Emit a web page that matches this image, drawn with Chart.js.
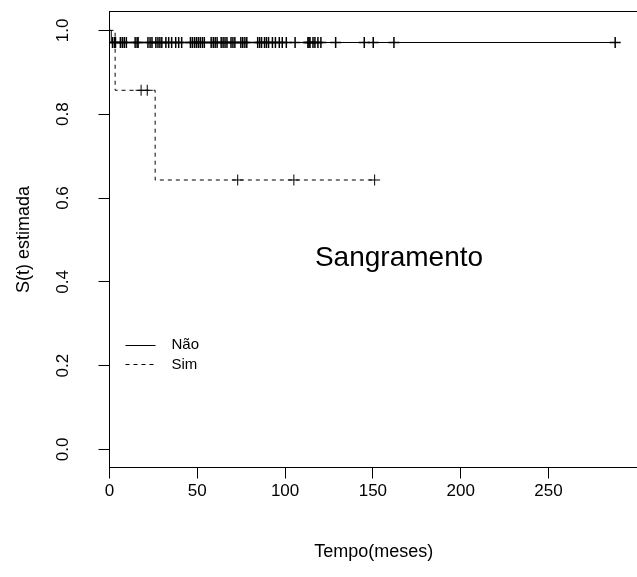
<!DOCTYPE html>
<html>
<head>
<meta charset="utf-8">
<script src="https://cdn.jsdelivr.net/npm/chart.js@4"></script>
<style>
  html, body { margin: 0; padding: 0; background: #fff; overflow: hidden; }
  #wrap { width: 645px; height: 577px; }
</style>
</head>
<body>
<div id="wrap"><canvas id="survival"></canvas></div>
<script>
// Kaplan-Meier curves (S(t)) by group
const naoTimes = [0, 1, 288];
const naoSurv = [1, 0.971, 0.971];
const naoCensor = [1.7, 2.8, 3.4, 6.2, 7.3, 8.4, 9.6, 14.6, 15.7, 16.3, 21.9, 23.1, 24.2,
  26.4, 27.6, 28.7, 29.8, 32.1, 33.7, 35.4, 37.7, 39.4, 41.1, 46.1, 47.2, 48.4, 49.5,
  50.6, 51.7, 52.9, 54.0, 57.9, 59.1, 60.2, 61.3, 63.6, 64.7, 65.8, 66.9, 69.2, 70.3,
  71.4, 74.8, 75.9, 77.1, 78.2, 84.4, 85.5, 86.6, 88.3, 89.4, 90.6, 92.8, 94.5, 96.7,
  98.4, 100.7, 105.7, 113.0, 113.6, 114.2, 115.9, 117.0, 118.7, 120.4, 128.8, 145.1,
  150.2, 162.0, 288.0];

const simTimes = [0, 3.2, 26, 151];
const simSurv = [1, 0.857, 0.643, 0.643];
const simCensor = [18, 21.5, 73, 105, 151];
const simCensorSurv = [0.857, 0.857, 0.643, 0.643, 0.643];

const xTicks = [0, 50, 100, 150, 200, 250];
const yTicks = [0, 0.2, 0.4, 0.6, 0.8, 1.0];
const groups = ["Não", "Sim"];

const pts = (xs, ys) => xs.map((x, i) => ({ x: x, y: ys[i] }));
const flat = (xs, y) => xs.map(x => ({ x: x, y: y }));

const tickFont = { family: "'Liberation Sans', Arial, sans-serif", size: 17 };
const titleFont = { family: "'Liberation Sans', Arial, sans-serif", size: 18 };

// frame, legend and panel label
const extras = {
  id: "extras",
  afterDraw(chart) {
    const ctx = chart.ctx;
    const a = chart.chartArea;
    ctx.save();
    ctx.strokeStyle = "#000";
    ctx.lineWidth = 1;
    ctx.strokeRect(a.left, a.top, a.right - a.left + 5, a.bottom - a.top);

    // legend
    const lx = a.left + 16, ly = 345;
    ctx.beginPath();
    ctx.moveTo(lx, ly + 0.5);
    ctx.lineTo(lx + 30, ly + 0.5);
    ctx.stroke();
    ctx.setLineDash([4, 4]);
    ctx.beginPath();
    ctx.moveTo(lx, ly + 19.5);
    ctx.lineTo(lx + 30, ly + 19.5);
    ctx.stroke();
    ctx.setLineDash([]);
    ctx.fillStyle = "#000";
    ctx.font = "15px 'Liberation Sans', Arial, sans-serif";
    ctx.textBaseline = "middle";
    ctx.fillText(groups[0], lx + 46, ly);
    ctx.fillText(groups[1], lx + 46, ly + 20);

    ctx.font = "28px 'Liberation Sans', Arial, sans-serif";
    ctx.textAlign = "center";
    ctx.fillText("Sangramento", 399, 258);
    ctx.restore();
  }
};

new Chart(document.getElementById("survival"), {
  type: "line",
  data: {
    datasets: [
      {
        label: groups[0],
        data: pts(naoTimes, naoSurv),
        stepped: true,
        borderColor: "#000",
        borderWidth: 1,
        pointRadius: 0,
        fill: false,
      },
      {
        label: groups[1],
        data: pts(simTimes, simSurv),
        stepped: true,
        borderColor: "#000",
        borderWidth: 1,
        borderDash: [4, 4],
        pointRadius: 0,
        fill: false,
      },
      {
        type: "scatter",
        label: groups[0] + " censura",
        data: flat(naoCensor, naoSurv[1]),
        pointStyle: "cross",
        pointRadius: 5.5,
        pointBorderWidth: 1.5,
        borderColor: "#000",
      },
      {
        type: "scatter",
        label: groups[1] + " censura",
        data: pts(simCensor, simCensorSurv),
        pointStyle: "cross",
        pointRadius: 5.5,
        pointBorderWidth: 1,
        borderColor: "#000",
      },
    ],
  },
  options: {
    responsive: true,
    maintainAspectRatio: false,
    animation: false,
    devicePixelRatio: 1,
    layout: { padding: { top: 11.5, left: 0, right: 0, bottom: 0 } },
    plugins: {
      legend: { display: false },
      tooltip: { enabled: false },
    },
    scales: {
      x: {
        type: "linear",
        min: 0,
        max: 301,
        afterFit: (s) => { s.height = 109.5; s.paddingLeft = 0; s.paddingRight = 0; },
        afterBuildTicks: (s) => { s.ticks = xTicks.map(v => ({ value: v })); },
        border: { display: false },
        grid: { display: true, drawOnChartArea: false, drawTicks: true, tickLength: 11, color: "#000" },
        ticks: { color: "#000", font: tickFont, padding: 3, maxRotation: 0 },
        title: { display: true, text: "Tempo(meses)", color: "#000", font: titleFont, padding: { top: 0, bottom: 14 } },
      },
      y: {
        type: "linear",
        min: -0.043,
        max: 1.045,
        afterFit: (s) => { s.width = 109.5; s.paddingTop = 0; s.paddingBottom = 0; },
        afterBuildTicks: (s) => { s.ticks = yTicks.map(v => ({ value: v })); },
        border: { display: false },
        grid: { display: true, drawOnChartArea: false, drawTicks: true, tickLength: 11, color: "#000" },
        ticks: {
          color: "#000",
          font: tickFont,
          padding: 23,
          minRotation: 90,
          maxRotation: 90,
          crossAlign: "center",
          callback: (v) => v.toFixed(1),
        },
        title: { display: true, text: "S(t) estimada", color: "#000", font: titleFont, padding: { top: 13, bottom: 0 } },
      },
    },
  },
  plugins: [extras],
});
</script>
</body>
</html>
